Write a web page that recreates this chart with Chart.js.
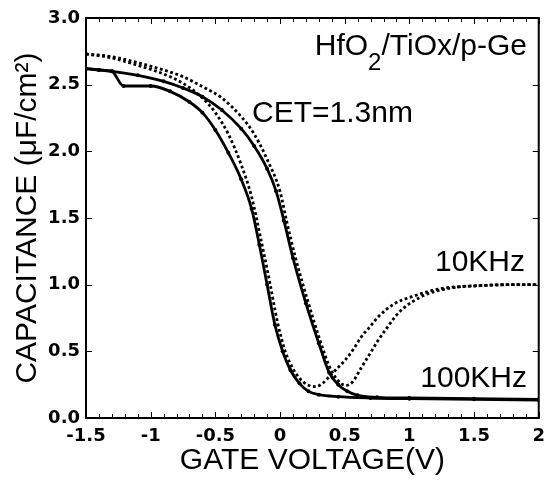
<!DOCTYPE html>
<html><head><meta charset="utf-8">
<script src="https://cdn.jsdelivr.net/npm/chart.js@4.4.0/dist/chart.umd.min.js"></script>
<style>html,body{margin:0;padding:0;background:#fff;}</style>
</head><body>
<canvas id="c" width="553" height="482"></canvas>
<script>
// ---- data ----
// 100 kHz, sweep A (left solid curve, with the small step near -1.25 V)
const vg100a = [-1.5,-1.4,-1.3,-1.21,-1.0,-0.85,-0.7,-0.6,-0.5,-0.4,-0.3,-0.22,-0.16,-0.1,-0.04,0.02,0.08,0.15,0.22,0.3,0.45,0.7,1.0,1.5,2.0];
const c100a  = [2.62,2.61,2.60,2.49,2.49,2.45,2.37,2.29,2.16,1.99,1.79,1.57,1.30,1.0,0.70,0.50,0.36,0.26,0.20,0.175,0.16,0.15,0.145,0.14,0.135];
// 100 kHz, sweep B (right solid curve)
const vg100b = [-1.5,-1.3,-1.1,-0.9,-0.75,-0.6,-0.45,-0.3,-0.2,-0.1,-0.03,0.03,0.1,0.2,0.3,0.38,0.45,0.52,0.6,0.75,1.0,1.5,2.0];
const c100b  = [2.62,2.60,2.57,2.525,2.475,2.41,2.31,2.17,2.04,1.87,1.70,1.48,1.20,0.86,0.56,0.34,0.25,0.20,0.17,0.155,0.15,0.145,0.14];
// 10 kHz, sweep A (left dotted curve)
const vg10a = [-1.5,-1.3,-1.1,-0.9,-0.75,-0.6,-0.5,-0.4,-0.3,-0.22,-0.15,-0.08,-0.02,0.04,0.1,0.15,0.21,0.275,0.33,0.38,0.44,0.5,0.57,0.63,0.7,0.76,0.89,1.02,1.15,1.27,1.5,1.75,2.0];
const c10a  = [2.73,2.70,2.645,2.58,2.51,2.40,2.29,2.13,1.90,1.66,1.35,1.02,0.72,0.50,0.37,0.30,0.25,0.235,0.26,0.31,0.37,0.43,0.52,0.61,0.69,0.76,0.86,0.91,0.95,0.975,0.99,1.0,1.0];
// 10 kHz, sweep B (right dotted curve)
const vg10b = [-1.5,-1.3,-1.1,-0.9,-0.75,-0.6,-0.45,-0.3,-0.2,-0.1,0.0,0.05,0.12,0.22,0.31,0.38,0.44,0.51,0.56,0.63,0.7,0.76,0.83,0.89,0.95,1.02,1.15,1.27,1.4,1.6,1.8,2.0];
const c10b  = [2.73,2.71,2.665,2.61,2.56,2.485,2.40,2.26,2.13,1.94,1.70,1.48,1.20,0.86,0.58,0.39,0.29,0.245,0.27,0.38,0.49,0.585,0.68,0.76,0.82,0.87,0.935,0.965,0.985,0.995,1.0,1.0];

const xTickLabels = ['-1.5','-1','-0.5','0','0.5','1','1.5','2'];
const yTickLabels = ['0.0','0.5','1.0','1.5','2.0','2.5','3.0'];

const toPts = (xs, ys) => xs.map((x, i) => ({x: x, y: ys[i]}));

const solid = {borderColor:'#000', backgroundColor:'#000', borderWidth:2.8, pointRadius:2,
  pointBackgroundColor:'#000', pointBorderWidth:0, cubicInterpolationMode:'monotone', fill:false};
const dotted = {borderColor:'#000', backgroundColor:'#000', borderWidth:2.8, borderDash:[2.8,2.6],
  pointRadius:0, cubicInterpolationMode:'monotone', fill:false};

const framePlugin = {
  id:'frame',
  afterDraw(chart){
    const {ctx, chartArea:a, scales:{x, y}} = chart;
    ctx.save();
    ctx.strokeStyle = '#000';
    ctx.lineWidth = 2;
    ctx.strokeRect(a.left, a.top, a.right - a.left, a.bottom - a.top);
    ctx.lineWidth = 1;
    ctx.beginPath();
    for (let k = -15; k <= 20; k++) {
      const v = k / 10;
      const px = Math.round(x.getPixelForValue(v)) + 0.5;
      const len = (k % 5 === 0) ? 6 : 4;
      ctx.moveTo(px, a.bottom); ctx.lineTo(px, a.bottom - len);
      ctx.moveTo(px, a.top); ctx.lineTo(px, a.top + len);
    }
    for (let k = 0; k <= 6; k++) {
      const py = Math.round(y.getPixelForValue(k / 2)) + 0.5;
      ctx.moveTo(a.left, py); ctx.lineTo(a.left + 6, py);
      ctx.moveTo(a.right, py); ctx.lineTo(a.right - 6, py);
    }
    ctx.stroke();

    // annotations
    ctx.fillStyle = '#000';
    ctx.textBaseline = 'alphabetic';
    const big = '30px "Liberation Sans", Arial, sans-serif';
    const sub = '24px "Liberation Sans", Arial, sans-serif';
    ctx.font = big;
    const w1 = ctx.measureText('HfO').width;
    const w3 = ctx.measureText('/TiOx/p-Ge').width;
    ctx.font = sub;
    const w2 = ctx.measureText('2').width;
    const sx = 527 - (w1 + w2 + w3);
    ctx.font = big; ctx.textAlign = 'left';
    ctx.fillText('HfO', sx, 55);
    ctx.font = sub; ctx.fillText('2', sx + w1, 70);
    ctx.font = big; ctx.fillText('/TiOx/p-Ge', sx + w1 + w2, 55);
    ctx.fillText('CET=1.3nm', 252, 122);
    ctx.textAlign = 'right';
    ctx.fillText('10KHz', 525, 271);
    ctx.fillText('100KHz', 527, 387);
    ctx.restore();
  }
};

new Chart(document.getElementById('c'), {
  type:'line',
  data:{
    datasets:[
      Object.assign({label:'100KHz A', data:toPts(vg100a, c100a)}, solid),
      Object.assign({label:'100KHz B', data:toPts(vg100b, c100b)}, solid),
      Object.assign({label:'10KHz A', data:toPts(vg10a, c10a)}, dotted),
      Object.assign({label:'10KHz B', data:toPts(vg10b, c10b)}, dotted)
    ]
  },
  options:{
    responsive:false,
    animation:false,
    devicePixelRatio:1,
    layout:{padding:{top:18, right:13, left:0, bottom:0}},
    plugins:{legend:{display:false}, tooltip:{enabled:false}},
    scales:{
      x:{
        type:'linear', min:-1.5, max:2,
        afterFit(s){ s.height = 64; },
        grid:{display:false, drawTicks:false},
        border:{display:false},
        ticks:{stepSize:0.5, padding:8, color:'#000', maxRotation:0,
          font:{family:'"DejaVu Sans"', weight:'bold', size:18},
          callback:(v) => xTickLabels[Math.round((v + 1.5) * 2)]},
        title:{display:true, text:'GATE VOLTAGE(V)', color:'#000',
          font:{family:'"Liberation Sans", Arial, sans-serif', size:30}, padding:{top:0, bottom:3}}
      },
      y:{
        type:'linear', min:0, max:3,
        afterFit(s){ s.width = 86; },
        grid:{display:false, drawTicks:false},
        border:{display:false},
        ticks:{stepSize:0.5, padding:6, color:'#000',
          font:{family:'"DejaVu Sans"', weight:'bold', size:18},
          callback:(v) => yTickLabels[Math.round(v * 2)]},
        title:{display:true, text:'CAPACITANCE (\u03BCF/cm\u00B2)', color:'#000',
          font:{family:'"Liberation Sans", Arial, sans-serif', size:30}, padding:{top:10, bottom:0}}
      }
    }
  },
  plugins:[framePlugin]
});
</script>
</body></html>
